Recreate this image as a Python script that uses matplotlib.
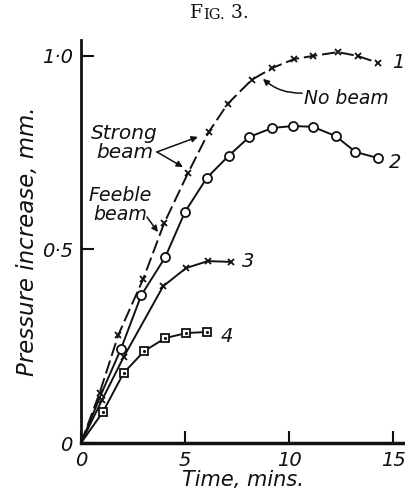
import matplotlib
matplotlib.use("Agg")
from matplotlib import pyplot as plt

# curve 1: no beam (crosses, broken line)
t1 = [0, 0.9, 1.8, 3.0, 4.0, 5.15, 6.15, 7.05, 8.2, 9.2, 10.25, 11.15, 12.35, 13.3, 14.3]
p1 = [0, 0.13, 0.28, 0.425, 0.568, 0.698, 0.804, 0.876, 0.938, 0.969, 0.992, 1.0, 1.01, 1.0, 0.982]

# curve 2: circles
t2 = [0, 1.0, 1.92, 2.9, 4.05, 5.0, 6.05, 7.1, 8.1, 9.2, 10.2, 11.15, 12.25, 13.2, 14.3]
p2 = [0, 0.13, 0.243, 0.382, 0.48, 0.597, 0.685, 0.742, 0.791, 0.814, 0.819, 0.817, 0.793, 0.752, 0.736]

# curve 3: crosses
t3 = [0, 1.0, 2.05, 3.95, 5.05, 6.1, 7.2]
p3 = [0, 0.11, 0.222, 0.405, 0.452, 0.47, 0.468]

# curve 4: squares
t4 = [0, 1.05, 2.05, 3.05, 4.05, 5.05, 6.05]
p4 = [0, 0.08, 0.181, 0.238, 0.271, 0.284, 0.287]

xticks = [0, 5, 10, 15]
xticklabels = ["0", "5", "10", "15"]
yticks = [0, 0.5, 1.0]
yticklabels = ["0", "0\u00b75", "1\u00b70"]

plt.rcParams['font.family'] = 'DejaVu Sans'
ink = "#111111"
it = dict(style='italic', color=ink)

fig = plt.figure(figsize=(4.06, 4.95), dpi=100)
ax = fig.add_axes([0.1995, 0.105, 0.798, 0.814])

ax.plot(t1, p1, color=ink, lw=1.4, ls=(0, (7, 2.5)), marker='x', ms=5, mew=1.3, markevery=list(range(1, len(t1))))
ax.plot(t2, p2, color=ink, lw=1.4, marker='o', ms=6.5, mfc='white', mew=1.3, markevery=list(range(2, len(t2))))
ax.plot(t3, p3, color=ink, lw=1.4, marker='x', ms=5, mew=1.3, markevery=list(range(1, len(t3))))
ax.plot(t4, p4, color=ink, lw=1.4, marker='s', ms=6, mfc='white', mew=1.3, markevery=list(range(1, len(t4))))
ax.plot(t4[1:], p4[1:], ls='none', marker='.', ms=2.5, color=ink)

ax.set_xlim(0, 15.58)
ax.set_ylim(0, 1.041)
for s in ['top', 'right']:
    ax.spines[s].set_visible(False)
ax.spines['left'].set_linewidth(2)
ax.spines['bottom'].set_linewidth(2.5)
ax.spines['left'].set_color(ink)
ax.spines['bottom'].set_color(ink)

ax.set_xticks(xticks)
ax.set_xticklabels(xticklabels, **it)
ax.set_yticks(yticks)
ax.set_yticklabels(yticklabels, **it)
ax.tick_params(axis='both', direction='in', length=9, width=1.5, labelsize=14, colors=ink, pad=6)

ax.set_xlabel("Time, mins.", fontsize=15, labelpad=0, **it)
ax.set_ylabel("Pressure increase, mm.", fontsize=16.5, labelpad=2, **it)

# annotations
ax.text(2.1, 0.775, "Strong\nbeam", fontsize=14.5, ha='center', va='center', linespacing=1.0, **it)
arrow = dict(arrowstyle='-|>', color=ink, lw=1.1, mutation_scale=9, shrinkA=0, shrinkB=0)
ax.annotate("", xy=(5.62, 0.791), xytext=(3.65, 0.752), arrowprops=arrow)
ax.annotate("", xy=(4.9, 0.713), xytext=(3.65, 0.752), arrowprops=arrow)
ax.text(1.88, 0.615, "Feeble\nbeam", fontsize=13.7, ha='center', va='center', linespacing=1.0, **it)
ax.annotate("", xy=(3.7, 0.545), xytext=(3.17, 0.584), arrowprops=arrow)
ax.text(10.7, 0.891, "No beam", fontsize=13.5, ha='left', va='center', **it)
ax.annotate("", xy=(8.75, 0.941), xytext=(10.63, 0.904),
            arrowprops=dict(arrowstyle='-|>', color=ink, lw=1.1, mutation_scale=9,
                            shrinkA=0, shrinkB=0, connectionstyle='arc3,rad=-0.2'))

ax.text(15.24, 0.982, "1", fontsize=14, ha='center', va='center', **it)
ax.text(15.1, 0.724, "2", fontsize=14, ha='center', va='center', **it)
ax.text(8.03, 0.468, "3", fontsize=14, ha='center', va='center', **it)
ax.text(7.02, 0.274, "4", fontsize=14, ha='center', va='center', **it)

# title in small caps, pieced together
serif = dict(family='DejaVu Serif', color=ink, va='bottom')
t_f = fig.text(0.468, 0.955, "F", fontsize=13.5, ha='left', **serif)
t_ig = ax.annotate("IG.", xy=(1, 0), xycoords=t_f, xytext=(0.5, 0), textcoords='offset points',
                   fontsize=10.5, ha='left', **serif)
ax.annotate(" 3.", xy=(1, 0), xycoords=t_ig, xytext=(0, 0), textcoords='offset points',
            fontsize=13.5, ha='left', **serif)

fig.savefig("out.png", dpi=100)
